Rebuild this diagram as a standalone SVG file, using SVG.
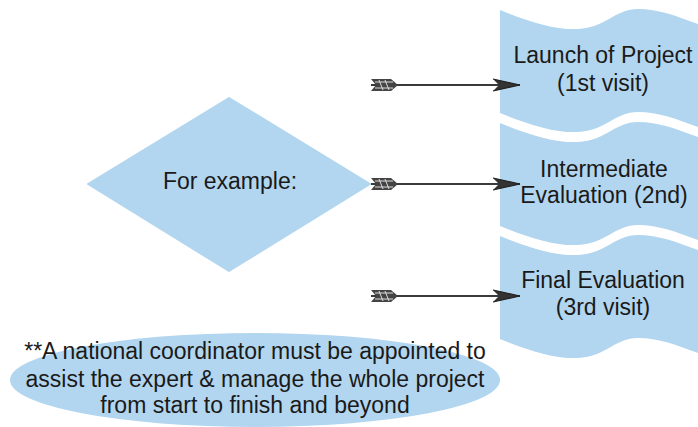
<svg xmlns="http://www.w3.org/2000/svg" width="698" height="427" viewBox="0 0 698 427">
  <style>
    .shape { fill: #b2d6ef; }
    .label { font-family: "Liberation Sans", Arial, sans-serif; font-size: 23px; fill: #1a1a1a; text-anchor: middle; }
    .conn { stroke: #3a3a3a; stroke-width: 2; fill: none; }
  </style>
  <defs>
    <path id="wave" d="M500,10 C530,22 555,30 578,29 C605,28 615,9 638,9 C665,9 690,22 720,32 L720,135 C690,125 665,112 638,112 C615,112 605,131 578,132 C555,133 530,125 500,113 Z"/>
    <marker id="head" markerUnits="userSpaceOnUse" markerWidth="32" markerHeight="16" viewBox="-30 -8 32 16" refX="0" refY="0" orient="auto">
      <path d="M0,0 L-27,-6 L-21,0 L-27,6 Z" fill="#333"/>
      <path d="M0,0 L-27,-6 M0,0 L-27,6" stroke="#222" stroke-width="1.2"/>
    </marker>
    <marker id="tail" markerUnits="userSpaceOnUse" markerWidth="32" markerHeight="16" viewBox="-2 -8 32 16" refX="0" refY="0" orient="auto">
      <path d="M0,-6 L20,-6 L27,0 L20,6 L0,6 L5,0 Z" fill="#444"/>
      <path d="M4,-3 L22,-3 M4,3 L22,3 M8,-5 L12,5 M14,-5 L18,5" stroke="#ddd" stroke-width="1"/>
    </marker>
  </defs>

  <g id="decision">
    <path class="shape" d="M229,98 L370,184 L229,271 L88,184 Z" stroke="#b2d6ef" stroke-width="2" stroke-linejoin="round"/>
    <text class="label" x="230" y="189">For example:</text>
  </g>

  <g id="visit1">
    <use href="#wave" class="shape"/>
    <text class="label" x="603" y="63">Launch of Project</text>
    <text class="label" x="603" y="91">(1st visit)</text>
  </g>

  <g id="visit2">
    <use href="#wave" class="shape" transform="translate(0,113)"/>
    <text class="label" x="604" y="177">Intermediate</text>
    <text class="label" x="604" y="203">Evaluation (2nd)</text>
  </g>

  <g id="visit3">
    <use href="#wave" class="shape" transform="translate(0,226)"/>
    <text class="label" x="603" y="288">Final Evaluation</text>
    <text class="label" x="603" y="315">(3rd visit)</text>
  </g>

  <g id="note">
    <ellipse class="shape" cx="255" cy="380" rx="245" ry="47"/>
    <text class="label" x="255" y="359">**A national coordinator must be appointed to</text>
    <text class="label" x="255" y="387">assist the expert &amp; manage the whole project</text>
    <text class="label" x="255" y="413">from start to finish and beyond</text>
  </g>

  <g id="connectors">
    <line class="conn" x1="371" y1="85" x2="520" y2="85" marker-start="url(#tail)" marker-end="url(#head)"/>
    <line class="conn" x1="371" y1="184" x2="520" y2="184" marker-start="url(#tail)" marker-end="url(#head)"/>
    <line class="conn" x1="371" y1="296" x2="520" y2="296" marker-start="url(#tail)" marker-end="url(#head)"/>
  </g>
</svg>
